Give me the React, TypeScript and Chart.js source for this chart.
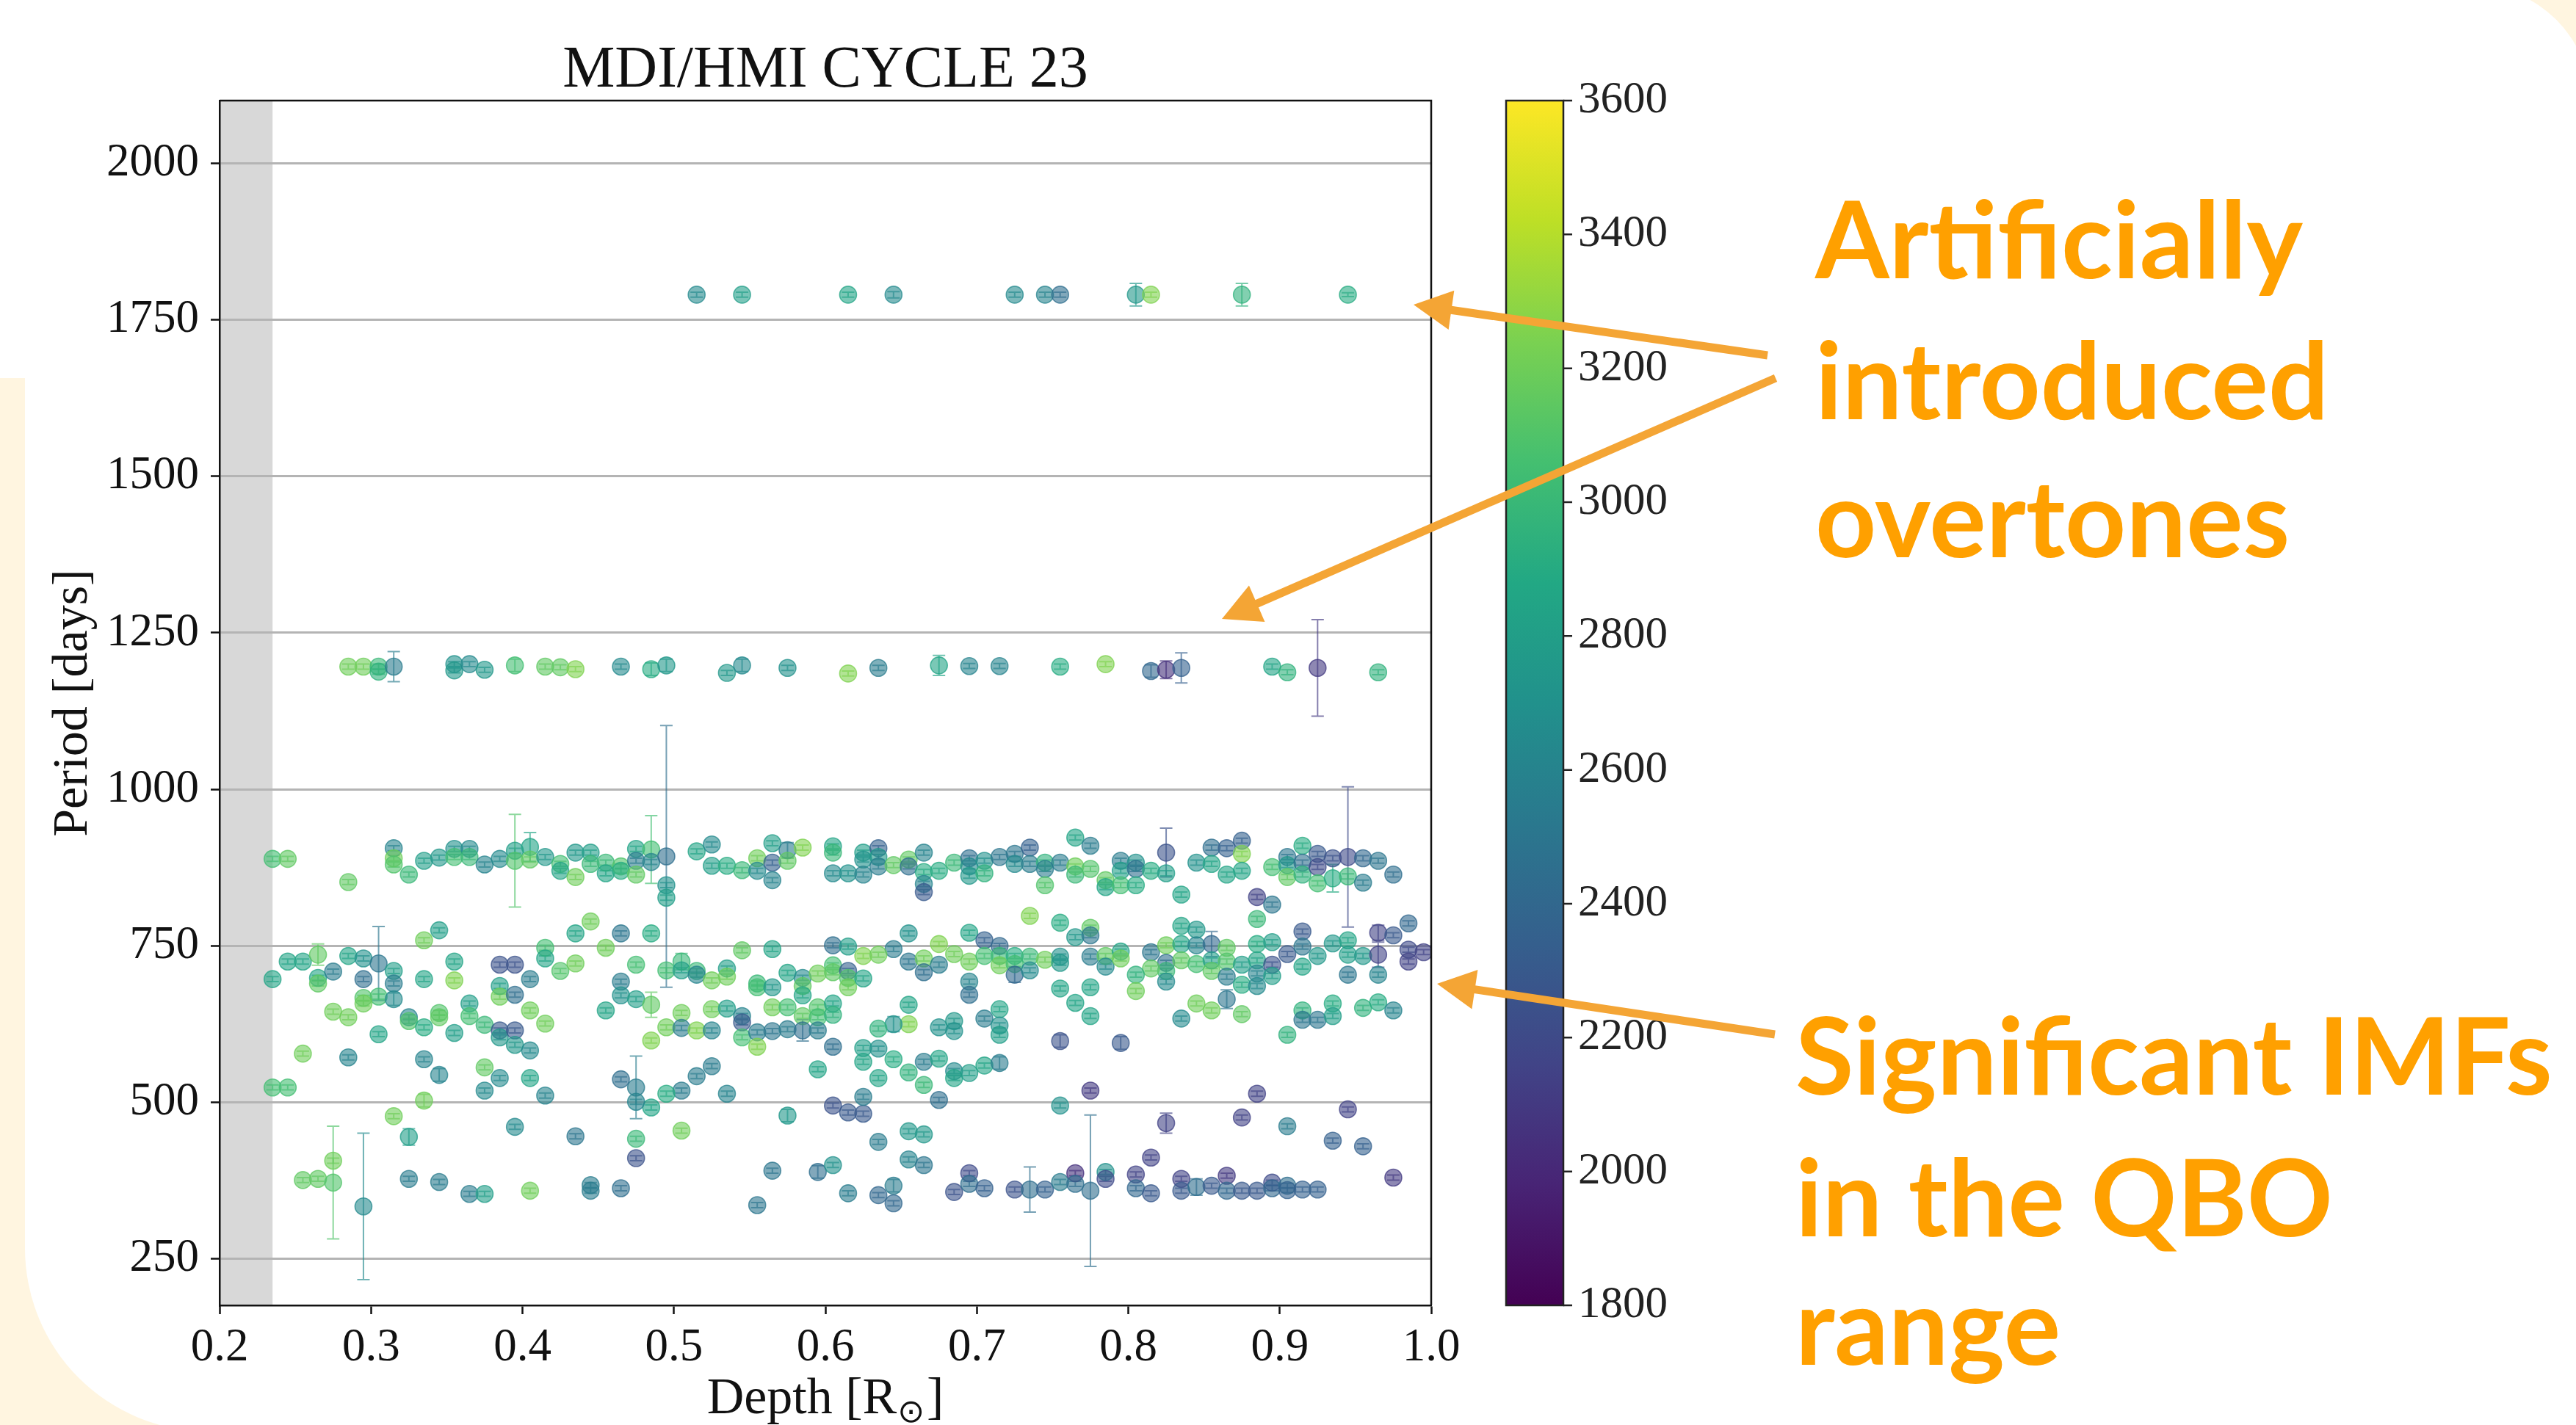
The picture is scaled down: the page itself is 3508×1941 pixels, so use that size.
import React, { useEffect, useRef } from 'react';
import { Chart, registerables } from 'chart.js';

Chart.register(...registerables);

// Each point: [depth (R_sun), period (days), colour value, period error (days)]
type Pt = [number, number, number, number];

const overtone1790: Pt[] = [
  [0.515, 1790, 2650, 4], [0.545, 1790, 2800, 4], [0.615, 1790, 2850, 4], [0.645, 1790, 2650, 5],
  [0.725, 1790, 2650, 4], [0.745, 1790, 2600, 4], [0.755, 1790, 2450, 4], [0.805, 1790, 2750, 18],
  [0.815, 1790, 3250, 4], [0.875, 1790, 2950, 18], [0.945, 1790, 2900, 3],
];

const overtone1200: Pt[] = [
  [0.285, 1196, 3200, 4], [0.295, 1196, 3200, 4], [0.305, 1196, 3000, 4], [0.305, 1188, 2950, 4],
  [0.315, 1196, 2550, 24], [0.355, 1200, 2700, 4], [0.355, 1190, 2750, 4], [0.365, 1200, 2650, 4],
  [0.375, 1191, 2750, 4], [0.395, 1198, 3050, 10], [0.415, 1196, 3150, 4], [0.425, 1195, 3150, 4],
  [0.435, 1192, 3250, 4], [0.465, 1196, 2650, 4], [0.485, 1192, 2900, 10], [0.495, 1198, 2750, 10],
  [0.535, 1186, 2750, 4], [0.545, 1198, 2650, 10], [0.575, 1194, 2700, 4], [0.615, 1185, 3250, 4],
  [0.635, 1194, 2550, 4], [0.675, 1198, 2850, 16], [0.695, 1197, 2600, 4], [0.715, 1197, 2600, 4],
  [0.755, 1196, 2900, 4], [0.785, 1200, 3250, 4], [0.815, 1189, 2400, 10], [0.825, 1191, 2050, 14],
  [0.835, 1194, 2350, 24], [0.895, 1196, 2850, 4], [0.905, 1187, 2950, 4], [0.925, 1194, 2100, 77],
  [0.965, 1187, 2950, 4],
];

const imfUpper: Pt[] = [
  [0.235, 889, 3050, 4], [0.245, 889, 3150, 4], [0.285, 852, 3150, 4], [0.315, 906, 2600, 4],
  [0.315, 890, 3200, 4], [0.315, 880, 3100, 4], [0.325, 864, 3000, 4], [0.335, 886, 2800, 4],
  [0.345, 891, 2750, 4], [0.355, 905, 2700, 4], [0.355, 892, 3050, 4], [0.365, 905, 2650, 4],
  [0.365, 892, 3000, 4], [0.375, 880, 2600, 4], [0.385, 889, 2650, 4], [0.395, 902, 2800, 4],
  [0.395, 886, 3100, 74], [0.405, 908, 2850, 23], [0.405, 888, 3150, 4], [0.415, 892, 2750, 4],
  [0.425, 881, 3050, 4], [0.425, 870, 2850, 4], [0.435, 899, 2750, 4], [0.435, 860, 3200, 4],
  [0.445, 899, 2800, 4], [0.445, 881, 3000, 4], [0.455, 883, 3000, 4], [0.455, 866, 2850, 4],
  [0.465, 877, 3100, 4], [0.465, 870, 2900, 4], [0.475, 905, 2850, 4], [0.475, 886, 2550, 4],
  [0.475, 864, 3150, 4], [0.485, 904, 3050, 54], [0.485, 884, 2600, 4], [0.495, 893, 2450, 209],
  [0.495, 847, 2700, 4], [0.495, 827, 2800, 4], [0.515, 901, 2850, 4], [0.525, 912, 2650, 4],
  [0.525, 878, 2800, 4], [0.535, 878, 2900, 4], [0.545, 871, 3000, 4], [0.555, 890, 3200, 4],
  [0.555, 870, 2650, 4], [0.565, 914, 2800, 4], [0.565, 883, 2350, 4], [0.565, 855, 2600, 4],
  [0.575, 903, 2550, 12], [0.575, 886, 3150, 4], [0.585, 907, 3250, 4], [0.605, 909, 2850, 4],
  [0.605, 899, 3000, 4], [0.605, 866, 2650, 4], [0.615, 866, 2700, 4], [0.625, 899, 2800, 4],
  [0.625, 888, 2700, 4], [0.625, 864, 2600, 4], [0.635, 906, 2350, 4], [0.635, 892, 2750, 4],
  [0.635, 877, 2550, 4], [0.645, 879, 3150, 4], [0.655, 888, 3150, 4], [0.655, 877, 2450, 4],
  [0.665, 899, 2600, 4], [0.665, 868, 2900, 4], [0.665, 849, 2600, 4], [0.665, 836, 2300, 4],
  [0.675, 870, 2900, 4], [0.685, 883, 3000, 4], [0.695, 890, 2450, 4], [0.695, 877, 2650, 4],
  [0.695, 862, 2750, 4], [0.705, 886, 2700, 4], [0.705, 866, 2950, 4], [0.715, 892, 2500, 4],
  [0.725, 897, 2500, 4], [0.725, 881, 2650, 4], [0.735, 907, 2350, 4], [0.735, 881, 2550, 4],
  [0.745, 883, 2950, 4], [0.745, 873, 2550, 4], [0.745, 847, 3100, 4], [0.755, 883, 2550, 4],
  [0.765, 923, 2850, 4], [0.765, 877, 3200, 4], [0.765, 864, 3000, 4], [0.775, 910, 2550, 4],
  [0.775, 873, 3100, 4], [0.785, 855, 3150, 4], [0.785, 844, 2850, 4], [0.795, 886, 2550, 4],
  [0.795, 870, 2800, 4], [0.795, 847, 3050, 4], [0.805, 883, 2700, 4], [0.805, 873, 2450, 4],
  [0.805, 847, 2900, 4], [0.815, 870, 2900, 4], [0.825, 899, 2250, 39], [0.825, 866, 2800, 4],
  [0.835, 832, 2850, 4], [0.845, 883, 2700, 4], [0.855, 907, 2450, 4], [0.855, 881, 2850, 4],
  [0.865, 906, 2350, 4], [0.865, 864, 2850, 4], [0.875, 918, 2350, 4], [0.875, 897, 3250, 4],
  [0.875, 870, 2850, 4], [0.885, 828, 2150, 4], [0.885, 793, 3000, 4], [0.895, 816, 2500, 4],
  [0.895, 876, 3050, 4], [0.905, 892, 2500, 4], [0.905, 879, 2750, 4], [0.905, 860, 3150, 4],
  [0.915, 910, 2900, 4], [0.915, 883, 2450, 4], [0.915, 864, 2950, 4], [0.925, 897, 2300, 4],
  [0.925, 876, 2200, 4], [0.925, 850, 3050, 4], [0.935, 890, 2250, 4], [0.935, 858, 2900, 22],
  [0.945, 892, 2200, 112], [0.945, 861, 3000, 4], [0.955, 890, 2400, 4], [0.955, 851, 2550, 4],
  [0.965, 886, 2500, 4], [0.975, 864, 2450, 4],
];

const imfMiddle: Pt[] = [
  [0.345, 775, 2800, 4], [0.335, 759, 3200, 4], [0.415, 747, 3050, 4], [0.415, 730, 2850, 4],
  [0.425, 710, 3100, 4], [0.245, 725, 2850, 4], [0.255, 725, 2850, 4], [0.265, 736, 3150, 17],
  [0.235, 697, 2850, 4], [0.265, 699, 2850, 4], [0.265, 690, 3150, 4], [0.275, 709, 2550, 4],
  [0.285, 734, 2850, 4], [0.295, 730, 2700, 4], [0.295, 697, 2450, 4], [0.305, 722, 2500, 59],
  [0.305, 669, 3050, 4], [0.315, 710, 2800, 4], [0.315, 690, 2550, 4], [0.315, 665, 2650, 10],
  [0.295, 667, 3100, 4], [0.295, 658, 3200, 4], [0.275, 645, 3200, 4], [0.285, 636, 3200, 4],
  [0.305, 609, 2850, 4], [0.325, 636, 2600, 4], [0.325, 630, 3100, 4], [0.335, 620, 2900, 4],
  [0.345, 643, 3100, 4], [0.345, 636, 3150, 4], [0.335, 697, 2850, 4], [0.355, 725, 2850, 4],
  [0.355, 695, 3250, 4], [0.355, 611, 2800, 4], [0.365, 658, 2800, 4], [0.365, 638, 3050, 4],
  [0.375, 624, 3000, 4], [0.385, 720, 2250, 4], [0.395, 720, 2250, 4], [0.385, 686, 2800, 4],
  [0.385, 669, 3200, 4], [0.395, 672, 2450, 4], [0.405, 697, 2550, 4], [0.405, 647, 3200, 4],
  [0.415, 626, 3200, 4], [0.385, 615, 2300, 4], [0.385, 604, 2750, 4], [0.395, 615, 2300, 4],
  [0.395, 592, 2750, 4], [0.405, 583, 2650, 4],
  [0.445, 789, 3200, 4], [0.435, 770, 2850, 4], [0.465, 770, 2500, 4], [0.485, 770, 2900, 4],
  [0.455, 747, 3200, 4], [0.435, 722, 3200, 4], [0.475, 720, 3050, 4], [0.495, 711, 3050, 4],
  [0.505, 725, 3000, 13], [0.505, 711, 2800, 4], [0.515, 710, 3000, 4], [0.515, 704, 2600, 4],
  [0.525, 695, 3200, 4], [0.535, 714, 2800, 4], [0.535, 701, 3200, 4], [0.545, 743, 3150, 4],
  [0.555, 690, 3000, 4], [0.555, 684, 3050, 4], [0.565, 745, 2850, 4], [0.565, 684, 2750, 4],
  [0.575, 707, 2850, 4], [0.585, 699, 2650, 4], [0.585, 686, 3150, 4], [0.585, 671, 2850, 4],
  [0.595, 706, 3200, 4], [0.605, 751, 2450, 4], [0.605, 719, 3050, 4], [0.605, 708, 3150, 4],
  [0.615, 749, 2800, 4], [0.615, 710, 2350, 4], [0.615, 699, 3100, 4], [0.615, 684, 3200, 4],
  [0.625, 734, 3250, 4], [0.625, 698, 2850, 4], [0.465, 693, 2550, 4], [0.465, 671, 2700, 4],
  [0.455, 647, 2850, 4], [0.475, 665, 2800, 4], [0.485, 656, 3150, 20], [0.495, 620, 3200, 4],
  [0.485, 599, 3250, 4], [0.505, 643, 3200, 4], [0.505, 619, 2550, 4], [0.515, 615, 3250, 4],
  [0.525, 649, 3200, 4], [0.525, 615, 2600, 4], [0.535, 650, 2800, 4], [0.545, 638, 2600, 4],
  [0.545, 628, 2300, 4], [0.545, 604, 3050, 4], [0.555, 612, 2550, 4], [0.555, 589, 3250, 4],
  [0.565, 652, 3200, 4], [0.565, 614, 2500, 4], [0.575, 652, 3050, 4], [0.575, 617, 2550, 4],
  [0.585, 638, 3150, 4], [0.585, 615, 2450, 17], [0.595, 652, 3100, 4], [0.595, 636, 3050, 4],
  [0.595, 615, 2550, 4], [0.605, 658, 2850, 4], [0.605, 640, 2950, 4], [0.605, 589, 2450, 4],
  [0.625, 587, 2800, 4],
  [0.735, 798, 3250, 4], [0.755, 787, 2900, 4], [0.765, 764, 2750, 4], [0.775, 779, 3150, 4],
  [0.775, 767, 2500, 4], [0.655, 770, 2700, 4], [0.695, 771, 2850, 4], [0.705, 759, 2350, 4],
  [0.715, 750, 2400, 4], [0.645, 745, 2550, 4], [0.635, 736, 3200, 4], [0.675, 753, 3250, 4],
  [0.685, 737, 3200, 4], [0.655, 725, 2500, 4], [0.665, 730, 3200, 4], [0.665, 708, 2450, 4],
  [0.675, 720, 2550, 4], [0.695, 725, 3200, 4], [0.705, 734, 3050, 4], [0.715, 734, 3000, 4],
  [0.715, 719, 3200, 4], [0.725, 734, 2900, 4], [0.725, 721, 3050, 4], [0.725, 704, 2400, 12],
  [0.735, 733, 3000, 4], [0.735, 711, 2650, 4], [0.745, 728, 3200, 4], [0.755, 733, 2700, 4],
  [0.755, 723, 2750, 4], [0.775, 733, 2550, 4], [0.785, 734, 3150, 4], [0.785, 717, 2650, 4],
  [0.795, 741, 2850, 4], [0.795, 730, 3200, 4], [0.815, 740, 2500, 4], [0.825, 751, 3200, 4],
  [0.825, 723, 2450, 4], [0.825, 710, 3000, 4], [0.825, 693, 2650, 4], [0.815, 714, 3150, 4],
  [0.805, 704, 2950, 4], [0.805, 678, 3200, 4], [0.695, 693, 2600, 4], [0.695, 672, 2450, 4],
  [0.755, 682, 2850, 4], [0.765, 659, 2850, 4], [0.775, 684, 2850, 4], [0.775, 638, 2850, 4],
  [0.655, 656, 2850, 4], [0.655, 625, 3250, 4], [0.645, 625, 2700, 12], [0.635, 618, 2950, 4],
  [0.675, 620, 2700, 4], [0.685, 630, 2750, 4], [0.685, 614, 2700, 4], [0.705, 634, 2550, 4],
  [0.715, 649, 2850, 4], [0.715, 623, 2700, 4], [0.715, 608, 2800, 4], [0.635, 586, 2700, 4],
  [0.755, 598, 2250, 10], [0.795, 595, 2300, 10],
  [0.835, 782, 2850, 4], [0.835, 753, 2850, 4], [0.835, 727, 3150, 4], [0.845, 776, 2750, 4],
  [0.845, 751, 2600, 4], [0.845, 721, 3050, 4], [0.855, 753, 2400, 20], [0.855, 727, 2800, 4],
  [0.855, 710, 3150, 4], [0.865, 747, 3150, 4], [0.865, 725, 3100, 4], [0.865, 701, 2550, 4],
  [0.865, 665, 2500, 15], [0.875, 720, 2800, 4], [0.875, 688, 2900, 4], [0.875, 641, 3150, 4],
  [0.885, 753, 2900, 4], [0.885, 727, 2850, 4], [0.885, 706, 2600, 4], [0.885, 686, 2650, 4],
  [0.895, 756, 2800, 4], [0.895, 720, 2250, 4], [0.895, 702, 2800, 4], [0.905, 737, 2300, 4],
  [0.915, 773, 2300, 4], [0.915, 749, 2500, 4], [0.915, 717, 2850, 4], [0.925, 734, 2750, 4],
  [0.935, 754, 2750, 4], [0.945, 759, 2850, 4], [0.945, 736, 2800, 4], [0.945, 704, 2500, 4],
  [0.955, 734, 2750, 4], [0.965, 771, 2150, 12], [0.965, 736, 2150, 20], [0.965, 704, 2600, 4],
  [0.975, 767, 2300, 4], [0.985, 786, 2400, 4], [0.985, 744, 2200, 4], [0.985, 725, 2150, 4],
  [0.995, 740, 2150, 4], [0.835, 634, 2650, 4], [0.845, 658, 3200, 4], [0.855, 647, 3200, 4],
  [0.905, 608, 2950, 4], [0.915, 647, 2950, 4], [0.915, 632, 2500, 4], [0.925, 632, 2500, 4],
  [0.935, 658, 2900, 4], [0.935, 638, 2800, 4], [0.955, 651, 2950, 4], [0.965, 660, 2900, 4],
  [0.975, 647, 2600, 4],
];

const imfLower: Pt[] = [
  [0.255, 578, 3200, 4], [0.285, 572, 2600, 4], [0.335, 569, 2600, 4], [0.345, 544, 2600, 10],
  [0.375, 556, 3150, 4], [0.385, 539, 2650, 4], [0.405, 539, 2850, 4], [0.375, 519, 2650, 4],
  [0.415, 511, 2600, 4], [0.235, 524, 3050, 4], [0.245, 524, 3050, 4], [0.335, 503, 3200, 10],
  [0.315, 478, 3200, 4], [0.325, 445, 2800, 13], [0.395, 461, 2650, 4], [0.275, 407, 3200, 4],
  [0.255, 376, 3150, 4], [0.265, 378, 3150, 4], [0.275, 372, 3100, 90], [0.295, 334, 2650, 117],
  [0.325, 378, 2550, 4], [0.345, 373, 2550, 4], [0.365, 354, 2550, 4], [0.375, 354, 2800, 4],
  [0.405, 359, 3200, 4],
  [0.625, 565, 2850, 4], [0.595, 553, 2850, 4], [0.515, 542, 2550, 4], [0.525, 558, 2550, 4],
  [0.505, 519, 2550, 4], [0.495, 514, 2900, 4], [0.485, 492, 2850, 4], [0.475, 524, 2550, 50],
  [0.475, 501, 2600, 4], [0.465, 537, 2450, 4], [0.535, 514, 2600, 4], [0.505, 455, 3200, 4],
  [0.475, 442, 3000, 4], [0.475, 411, 2250, 4], [0.435, 446, 2500, 4], [0.575, 479, 2750, 10],
  [0.605, 495, 2250, 4], [0.615, 484, 2300, 4], [0.625, 482, 2300, 4], [0.625, 509, 2550, 4],
  [0.445, 368, 2550, 4], [0.445, 359, 2550, 4], [0.465, 363, 2450, 4], [0.565, 391, 2500, 4],
  [0.595, 389, 2450, 10], [0.605, 400, 2700, 4], [0.555, 336, 2500, 4], [0.615, 355, 2550, 4],
  [0.645, 569, 2900, 4], [0.635, 539, 2850, 4], [0.655, 548, 2950, 4], [0.665, 565, 2550, 4],
  [0.675, 570, 2850, 4], [0.665, 528, 3000, 4], [0.685, 550, 2650, 4], [0.685, 539, 2850, 4],
  [0.695, 547, 2800, 4], [0.705, 559, 2850, 4], [0.715, 563, 2550, 10], [0.675, 504, 2450, 4],
  [0.775, 519, 2100, 4], [0.755, 495, 2700, 4], [0.825, 467, 2150, 16], [0.815, 412, 2150, 4],
  [0.635, 437, 2550, 4], [0.655, 454, 2750, 4], [0.665, 449, 2750, 4], [0.655, 409, 2600, 4],
  [0.665, 400, 2500, 4], [0.635, 352, 2400, 4], [0.645, 367, 2550, 10], [0.645, 339, 2400, 4],
  [0.685, 357, 2250, 4], [0.695, 387, 2200, 4], [0.695, 370, 2450, 4], [0.705, 363, 2350, 4],
  [0.725, 361, 2250, 4], [0.735, 361, 2450, 36], [0.745, 361, 2350, 4], [0.755, 373, 2550, 4],
  [0.765, 387, 2050, 4], [0.765, 370, 2450, 4], [0.775, 359, 2450, 121], [0.785, 389, 2700, 4],
  [0.785, 378, 2200, 4], [0.805, 385, 2150, 4], [0.805, 363, 2400, 4], [0.815, 355, 2300, 4],
  [0.885, 514, 2150, 4], [0.875, 476, 2150, 4], [0.905, 462, 2550, 4], [0.935, 439, 2350, 4],
  [0.945, 489, 2150, 4], [0.955, 430, 2350, 4], [0.975, 380, 2100, 4], [0.835, 378, 2150, 4],
  [0.835, 359, 2300, 4], [0.845, 365, 2450, 13], [0.855, 367, 2300, 4], [0.865, 383, 2100, 4],
  [0.865, 359, 2400, 4], [0.875, 359, 2300, 4], [0.885, 359, 2300, 4], [0.895, 372, 2200, 4],
  [0.895, 363, 2400, 4], [0.905, 367, 2450, 4], [0.905, 360, 2350, 4], [0.915, 361, 2350, 4],
  [0.925, 361, 2350, 4],
];

const xTicks = [0.2, 0.3, 0.4, 0.5, 0.6, 0.7, 0.8, 0.9, 1.0];
const yTicks = [250, 500, 750, 1000, 1250, 1500, 1750, 2000];
const cbarTicks = [1800, 2000, 2200, 2400, 2600, 2800, 3000, 3200, 3400, 3600];
const xRange = [0.2, 1.0];
const yRange = [176, 2100];
const cRange = [1800, 3600];
const shadedDepth = [0.2, 0.235];

const titleText = 'MDI/HMI CYCLE 23';
const yTitle = 'Period [days]';
const xTitleMain = 'Depth [R';
const xTitleSub = '\u2299';
const xTitleEnd = ']';

const noteTop = ['Artificially', 'introduced', 'overtones'];
const noteBottom = ['Significant IMFs', 'in the QBO', 'range'];

const VIRIDIS = [
  [68, 1, 84], [72, 36, 117], [65, 68, 135], [53, 95, 141], [42, 120, 142],
  [33, 145, 140], [34, 168, 132], [68, 191, 112], [122, 209, 81], [189, 223, 38], [253, 231, 37],
];

function viridis(t: number): number[] {
  const c = Math.max(0, Math.min(1, t));
  const f = c * 10;
  const i = Math.min(9, Math.floor(f));
  const r = f - i;
  const a = VIRIDIS[i];
  const b = VIRIDIS[i + 1];
  return [a[0] + (b[0] - a[0]) * r, a[1] + (b[1] - a[1]) * r, a[2] + (b[2] - a[2]) * r];
}

function colourOf(v: number, alpha: number): string {
  const [r, g, b] = viridis((v - cRange[0]) / (cRange[1] - cRange[0]));
  return `rgba(${Math.round(r)},${Math.round(g)},${Math.round(b)},${alpha})`;
}

const SERIF = "'Liberation Serif', 'DejaVu Serif', serif";

const decorPlugin = {
  id: 'decor',
  beforeDraw(chart: any) {
    const { ctx, chartArea, scales } = chart;
    const x0 = scales.x.getPixelForValue(shadedDepth[0]);
    const x1 = scales.x.getPixelForValue(shadedDepth[1]);
    ctx.save();
    ctx.fillStyle = '#d8d8d8';
    ctx.fillRect(x0, chartArea.top, x1 - x0, chartArea.bottom - chartArea.top);
    ctx.restore();
  },
  beforeDatasetsDraw(chart: any) {
    const { ctx, scales } = chart;
    const pts = chart.data.datasets[0].data as any[];
    ctx.save();
    ctx.lineWidth = 2;
    for (const p of pts) {
      const px = scales.x.getPixelForValue(p.x);
      const y0 = scales.y.getPixelForValue(p.y - p.e);
      const y1 = scales.y.getPixelForValue(p.y + p.e);
      ctx.strokeStyle = colourOf(p.c, 0.65);
      ctx.beginPath();
      ctx.moveTo(px, y0);
      ctx.lineTo(px, y1);
      ctx.moveTo(px - 8.5, y0);
      ctx.lineTo(px + 8.5, y0);
      ctx.moveTo(px - 8.5, y1);
      ctx.lineTo(px + 8.5, y1);
      ctx.stroke();
    }
    ctx.restore();
  },
  afterDraw(chart: any) {
    const { ctx, chartArea, scales } = chart;
    ctx.save();
    ctx.strokeStyle = '#111';
    ctx.lineWidth = 2.5;
    ctx.beginPath();
    ctx.moveTo(chartArea.left, chartArea.top);
    ctx.lineTo(chartArea.right, chartArea.top);
    ctx.lineTo(chartArea.right, chartArea.bottom);
    ctx.stroke();

    const cb = scales.cbar;
    const top = cb.getPixelForValue(cRange[1]);
    const bottom = cb.getPixelForValue(cRange[0]);
    const bl = cb.left + 102;
    const bw = 78;
    const grad = ctx.createLinearGradient(0, bottom, 0, top);
    for (let i = 0; i < VIRIDIS.length; i++) {
      const c = VIRIDIS[i];
      grad.addColorStop(i / 10, `rgb(${c[0]},${c[1]},${c[2]})`);
    }
    ctx.fillStyle = grad;
    ctx.fillRect(bl, top, bw, bottom - top);
    ctx.strokeStyle = '#222';
    ctx.lineWidth = 2.5;
    ctx.strokeRect(bl, top, bw, bottom - top);
    ctx.beginPath();
    for (const t of cbarTicks) {
      const py = cb.getPixelForValue(t);
      ctx.moveTo(bl + bw, py);
      ctx.lineTo(bl + bw + 12, py);
    }
    ctx.stroke();

    ctx.fillStyle = '#111';
    ctx.font = `80px ${SERIF}`;
    ctx.textAlign = 'center';
    ctx.textBaseline = 'alphabetic';
    ctx.fillText(titleText, (chartArea.left + chartArea.right) / 2, 118);

    const mainFont = `70px ${SERIF}`;
    const subFont = `44px 'DejaVu Sans', ${SERIF}`;
    ctx.font = mainFont;
    const w1 = ctx.measureText(xTitleMain).width;
    const w3 = ctx.measureText(xTitleEnd).width;
    ctx.font = subFont;
    const w2 = ctx.measureText(xTitleSub).width;
    const total = w1 + w2 + w3 + 4;
    let xx = (chartArea.left + chartArea.right) / 2 - total / 2;
    const base = 1925;
    ctx.textAlign = 'left';
    ctx.font = mainFont;
    ctx.fillText(xTitleMain, xx, base);
    xx += w1 + 1;
    ctx.font = subFont;
    ctx.fillText(xTitleSub, xx, base + 12);
    xx += w2 + 3;
    ctx.font = mainFont;
    ctx.fillText(xTitleEnd, xx, base);
    ctx.restore();
  },
};

const ARROWS = [
  { from: [2407, 484], to: [1925, 415] },
  { from: [2418, 515], to: [1664, 843] },
  { from: [2417, 1409], to: [1957, 1340] },
];

function arrowShape(from: number[], to: number[], headLen: number, halfW: number) {
  const dx = to[0] - from[0];
  const dy = to[1] - from[1];
  const len = Math.hypot(dx, dy);
  const ux = dx / len;
  const uy = dy / len;
  const bx = to[0] - ux * headLen;
  const by = to[1] - uy * headLen;
  const nx = -uy;
  const ny = ux;
  return {
    line: [from[0], from[1], bx + ux * 4, by + uy * 4],
    head: `${to[0]},${to[1]} ${bx + nx * halfW},${by + ny * halfW} ${bx - nx * halfW},${by - ny * halfW}`,
  };
}

export default function App() {
  const ref = useRef<HTMLCanvasElement>(null);

  useEffect(() => {
    const canvas = ref.current;
    if (!canvas) return;
    const points = [...overtone1790, ...overtone1200, ...imfUpper, ...imfMiddle, ...imfLower].map(
      ([x, y, c, e]) => ({ x, y, c, e })
    );
    const tickFont = { family: SERIF, size: 63 };
    const chart = new Chart(canvas, {
      type: 'scatter',
      data: {
        datasets: [
          {
            data: points as any,
            pointRadius: 11.5,
            pointHoverRadius: 11.5,
            pointBorderWidth: 1.6,
            pointBackgroundColor: (ctx: any) => colourOf(ctx.raw ? ctx.raw.c : 2700, 0.6),
            pointBorderColor: (ctx: any) => colourOf(ctx.raw ? ctx.raw.c : 2700, 0.75),
          } as any,
        ],
      },
      options: {
        responsive: false,
        animation: false,
        devicePixelRatio: 1,
        events: [],
        layout: { padding: { left: 0, top: 137, right: 1208, bottom: 0 } },
        plugins: {
          legend: { display: false },
          tooltip: { enabled: false },
          title: { display: false },
        },
        scales: {
          x: {
            type: 'linear',
            min: xRange[0],
            max: xRange[1],
            afterBuildTicks: (s: any) => {
              s.ticks = xTicks.map((v) => ({ value: v }));
            },
            afterFit: (s: any) => {
              s.height = 163;
            },
            grid: {
              display: true,
              drawOnChartArea: false,
              drawTicks: true,
              tickLength: 12,
              tickWidth: 2.5,
              tickColor: '#111',
            },
            border: { display: true, color: '#111', width: 2.5 },
            ticks: {
              font: tickFont,
              color: '#111',
              padding: 9,
              autoSkip: false,
              maxRotation: 0,
              callback: (v: any) => Number(v).toFixed(1),
            },
          },
          y: {
            type: 'linear',
            position: 'left',
            min: yRange[0],
            max: yRange[1],
            afterBuildTicks: (s: any) => {
              s.ticks = yTicks.map((v) => ({ value: v }));
            },
            afterFit: (s: any) => {
              s.width = 299;
              s.paddingTop = 0;
              s.paddingBottom = 0;
            },
            grid: {
              display: true,
              drawOnChartArea: true,
              color: '#b4b4b4',
              lineWidth: 3,
              drawTicks: true,
              tickLength: 12,
              tickWidth: 2.5,
              tickColor: '#111',
            },
            border: { display: true, color: '#111', width: 2.5 },
            ticks: {
              font: tickFont,
              color: '#111',
              padding: 16,
              autoSkip: false,
              callback: (v: any) => String(v),
            },
            title: {
              display: true,
              text: yTitle,
              font: { family: SERIF, size: 68 },
              color: '#111',
              padding: { top: 59, bottom: 0 },
            },
          },
          cbar: {
            type: 'linear',
            position: 'right',
            min: cRange[0],
            max: cRange[1],
            afterBuildTicks: (s: any) => {
              s.ticks = cbarTicks.map((v) => ({ value: v }));
            },
            afterFit: (s: any) => {
              s.width = 351;
              s.paddingTop = 0;
              s.paddingBottom = 0;
            },
            grid: { display: false, drawTicks: false },
            border: { display: false },
            ticks: {
              font: { family: SERIF, size: 61 },
              color: '#222',
              padding: 200,
              autoSkip: false,
              callback: (v: any) => String(v),
            },
          },
        } as any,
      },
      plugins: [decorPlugin],
    });
    return () => chart.destroy();
  }, []);

  const orange = '#FFA000';
  const arrowColour = '#F4A535';
  const noteStyle = (left: number, top: number): React.CSSProperties => ({
    position: 'absolute',
    left,
    top,
    fontFamily: "Lato, 'Open Sans', sans-serif",
    fontWeight: 700,
    fontSize: 145,
    lineHeight: '145px',
    color: orange,
    whiteSpace: 'nowrap',
  });
  const topBaselines = [380, 572, 760];
  const bottomBaselines = [1492, 1685, 1860];
  const asc = 129;

  return (
    <div
      style={{
        position: 'absolute',
        left: 0,
        top: 0,
        width: 3508,
        height: 1941,
        overflow: 'hidden',
        background: '#FFF5E0',
      }}
    >
      <div
        style={{
          position: 'absolute',
          left: 34,
          top: -20,
          width: 3494,
          height: 1970,
          background: '#ffffff',
          borderTopRightRadius: 160,
          borderBottomLeftRadius: 250,
        }}
      />
      <div style={{ position: 'absolute', left: 0, top: 0, width: 40, height: 515, background: '#ffffff' }} />
      <canvas
        ref={ref}
        width={3508}
        height={1941}
        style={{ position: 'absolute', left: 0, top: 0, width: 3508, height: 1941 }}
      />
      <svg
        width={3508}
        height={1941}
        style={{ position: 'absolute', left: 0, top: 0, pointerEvents: 'none' }}
      >
        {ARROWS.map((a, i) => {
          const s = arrowShape(a.from, a.to, 52, 27);
          return (
            <g key={i}>
              <line
                x1={s.line[0]}
                y1={s.line[1]}
                x2={s.line[2]}
                y2={s.line[3]}
                stroke={arrowColour}
                strokeWidth={11}
              />
              <polygon points={s.head} fill={arrowColour} />
            </g>
          );
        })}
      </svg>
      {noteTop.map((t, i) => (
        <div key={'t' + i} style={noteStyle(2472, topBaselines[i] - asc)}>
          {t}
        </div>
      ))}
      {noteBottom.map((t, i) => (
        <div key={'b' + i} style={noteStyle(2445, bottomBaselines[i] - asc)}>
          {t}
        </div>
      ))}
    </div>
  );
}
